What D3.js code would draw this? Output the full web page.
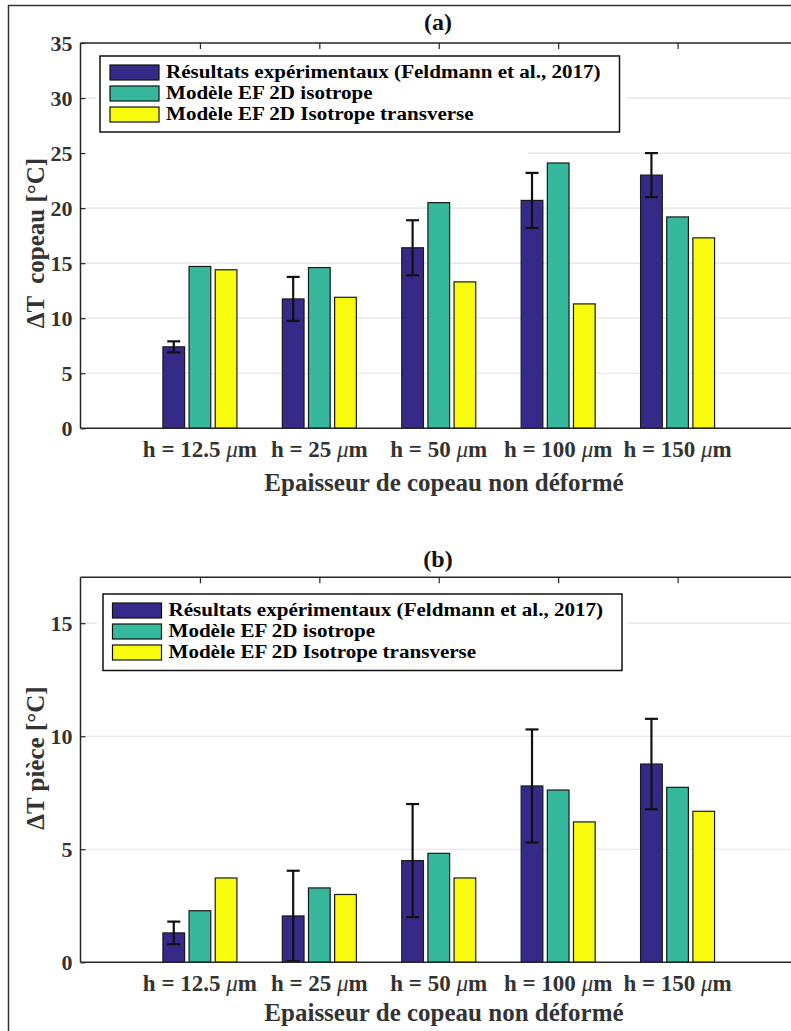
<!DOCTYPE html>
<html>
<head>
<meta charset="utf-8">
<script src="https://cdn.jsdelivr.net/npm/d3@7/dist/d3.min.js"></script>
<style>
  html, body { margin: 0; padding: 0; background: #fff; }
  svg { display: block; }
  text { font-family: "Liberation Serif", "Times New Roman", serif; font-weight: bold; }
</style>
</head>
<body>
<div id="chart"></div>
<script>
// ---------- data ----------
const categories = ["12.5", "25", "50", "100", "150"];
const seriesNames = [
  "Résultats expérimentaux (Feldmann et al., 2017)",
  "Modèle EF 2D isotrope",
  "Modèle EF 2D Isotrope transverse"
];
const seriesColors = ["#352a87", "#36b89c", "#f9fb0e"];

// Panel (a): ΔT copeau
const expA   = [7.4, 11.75, 16.4, 20.7, 23.0];
const errA   = [0.5, 2.0, 2.5, 2.5, 2.0];
const isoA   = [14.7, 14.6, 20.5, 24.1, 19.2];
const transA = [14.4, 11.9, 13.3, 11.3, 17.3];
const yTicksA = [0, 5, 10, 15, 20, 25, 30, 35];

// Panel (b): ΔT pièce
const expB   = [1.3, 2.05, 4.5, 7.8, 8.77];
const errB   = [0.5, 2.0, 2.5, 2.5, 2.0];
const isoB   = [2.28, 3.29, 4.82, 7.62, 7.74];
const transB = [3.73, 3.0, 3.73, 6.21, 6.68];
const yTicksB = [0, 5, 10, 15];

// ---------- layout ----------
const W = 791, H = 1031;
const svg = d3.select("#chart").append("svg").attr("width", W).attr("height", H);

// outer frame (figure border, right/bottom cropped)
svg.append("line").attr("x1", 8.5).attr("x2", 8.5).attr("y1", 5).attr("y2", H)
  .attr("stroke", "#333").attr("stroke-width", 1.5);
svg.append("line").attr("x1", 8).attr("x2", W).attr("y1", 5.5).attr("y2", 5.5)
  .attr("stroke", "#333").attr("stroke-width", 1.5);

const axisColor = "#262626";

function panel(cfg) {
  const { top, bottom, ymax, yTicks, exp, err, iso, trans, title, titleY,
          ylabel, ylabelY, tickLabelY, xlabelY, legend, masks } = cfg;
  const left = 80.5, right = 797;
  const g = svg.append("g");

  const x = d3.scaleLinear().domain([0, categories.length + 1]).range([left, right]);
  const y = d3.scaleLinear().domain([0, ymax]).range([bottom, top]);
  const inner = d3.scaleBand().domain(d3.range(3)).range([-37, 37]).paddingInner(0.17).paddingOuter(0);

  // gridlines
  g.append("g").selectAll("line").data(yTicks.filter(t => t > 0 && t < ymax)).join("line")
    .attr("x1", left).attr("x2", right)
    .attr("y1", d => y(d)).attr("y2", d => y(d))
    .attr("stroke", "#e3e3e3").attr("stroke-width", 1.2);

  // white masks (legend background areas in the original)
  masks.forEach(m => {
    g.append("rect").attr("x", m[0]).attr("y", m[1]).attr("width", m[2] - m[0]).attr("height", m[3] - m[1])
      .attr("fill", "#fff");
  });

  // bars
  const series = [exp, iso, trans];
  series.forEach((vals, si) => {
    g.append("g").selectAll("rect").data(vals).join("rect")
      .attr("x", (d, i) => x(i + 1) + inner(si))
      .attr("width", inner.bandwidth())
      .attr("y", d => y(d))
      .attr("height", d => y(0) - y(d))
      .attr("fill", seriesColors[si])
      .attr("stroke", "#1a1a1a").attr("stroke-width", 1.2);
  });

  // error bars on experimental series
  const eg = g.append("g");
  exp.forEach((v, i) => {
    const cx = x(i + 1) + inner(0) + inner.bandwidth() / 2;
    const y1 = y(v + err[i]), y2 = y(Math.max(0, v - err[i]));
    eg.append("line").attr("x1", cx).attr("x2", cx).attr("y1", y1).attr("y2", y2)
      .attr("stroke", "#111").attr("stroke-width", 2.2);
    [y1, y2].forEach(yy => eg.append("line").attr("x1", cx - 6.5).attr("x2", cx + 6.5)
      .attr("y1", yy).attr("y2", yy).attr("stroke", "#111").attr("stroke-width", 2.2));
  });

  // axes box
  const box = g.append("g").attr("stroke", axisColor).attr("stroke-width", 1.5).attr("fill", "none");
  box.append("line").attr("x1", left).attr("x2", left).attr("y1", top).attr("y2", bottom);
  box.append("line").attr("x1", left).attr("x2", right).attr("y1", bottom).attr("y2", bottom);
  box.append("line").attr("x1", left).attr("x2", right).attr("y1", top).attr("y2", top);
  box.append("line").attr("x1", right).attr("x2", right).attr("y1", top).attr("y2", bottom);

  // y axis (ticks inward)
  const yAxis = d3.axisLeft(y).tickValues(yTicks).tickSize(-5).tickPadding(8).tickFormat(d3.format("d"));
  const ya = g.append("g").attr("transform", `translate(${left},0)`).call(yAxis);
  ya.select(".domain").remove();
  ya.selectAll(".tick line").attr("stroke", axisColor).attr("stroke-width", 1.2);
  ya.selectAll(".tick text").attr("fill", "#333").style("font-size", "22px")
    .style("font-family", "'Liberation Serif', serif").style("font-weight", "bold");
  // right-side ticks
  const yAxisR = d3.axisRight(y).tickValues(yTicks).tickSize(-5).tickFormat("");
  const yr = g.append("g").attr("transform", `translate(${right},0)`).call(yAxisR);
  yr.select(".domain").remove();
  yr.selectAll(".tick line").attr("stroke", axisColor).attr("stroke-width", 1.2);

  // top ticks (inward)
  const xAxisT = d3.axisTop(x).tickValues(d3.range(1, categories.length + 1)).tickSize(-6).tickFormat("");
  const xt = g.append("g").attr("transform", `translate(0,${top})`).call(xAxisT);
  xt.select(".domain").remove();
  xt.selectAll(".tick line").attr("stroke", axisColor).attr("stroke-width", 1.2);

  // x tick labels
  const xl = g.append("g");
  categories.forEach((c, i) => {
    const t = xl.append("text").attr("x", x(i + 1)).attr("y", tickLabelY)
      .attr("text-anchor", "middle").attr("fill", "#333").style("font-size", "23px");
    t.append("tspan").text(`h = ${c} `);
    t.append("tspan").style("font-style", "italic").style("font-weight", "normal").text("μ");
    t.append("tspan").text("m");
  });

  // x label
  g.append("text").attr("x", 444).attr("y", xlabelY).attr("text-anchor", "middle")
    .attr("fill", "#333").style("font-size", "25px").text("Epaisseur de copeau non déformé");

  // y label
  g.append("text").attr("transform", `translate(35,${ylabelY}) rotate(-90)`)
    .attr("text-anchor", "middle").attr("dominant-baseline", "central")
    .attr("fill", "#333").style("font-size", "25px").style("white-space", "pre").text(ylabel);

  // title
  g.append("text").attr("x", 438).attr("y", titleY).attr("text-anchor", "middle")
    .attr("fill", "#111").style("font-size", "24px").text(title);

  // legend
  const L = legend;
  const lg = g.append("g");
  lg.append("rect").attr("x", L.x0).attr("y", L.y0).attr("width", L.x1 - L.x0).attr("height", L.y1 - L.y0)
    .attr("fill", "#fff").attr("stroke", "#111").attr("stroke-width", 1.5);
  seriesNames.forEach((n, i) => {
    const ry = L.y0 + 9 + i * 21;
    lg.append("rect").attr("x", L.sx).attr("y", ry).attr("width", 49).attr("height", 15)
      .attr("fill", seriesColors[i]).attr("stroke", "#111").attr("stroke-width", 1.2);
    const t = lg.append("text").attr("x", L.sx + 56).attr("y", ry + 13).attr("fill", "#000")
      .style("font-size", "18px").text(n);
    const w = t.node().getComputedTextLength();
    t.attr("textLength", w * 1.17).attr("lengthAdjust", "spacingAndGlyphs");
  });
}

panel({
  top: 43, bottom: 428.3, ymax: 35, yTicks: yTicksA,
  exp: expA, err: errA, iso: isoA, trans: transA,
  title: "(a)", titleY: 30,
  ylabel: "ΔT  copeau [°C]", ylabelY: 243,
  tickLabelY: 457, xlabelY: 491,
  legend: { x0: 100, y0: 56, x1: 619.5, y1: 132, sx: 110 },
  masks: [[96, 45, 626, 140], [82, 140, 528, 165]]
});

panel({
  top: 577.3, bottom: 962.3, ymax: 17.03, yTicks: yTicksB,
  exp: expB, err: errB, iso: isoB, trans: transB,
  title: "(b)", titleY: 567,
  ylabel: "ΔT pièce [°C]", ylabelY: 758,
  tickLabelY: 991, xlabelY: 1021,
  legend: { x0: 103, y0: 594, x1: 622, y1: 670.5, sx: 112.5 },
  masks: [[97, 580, 628, 675]]
});
</script>
</body>
</html>
